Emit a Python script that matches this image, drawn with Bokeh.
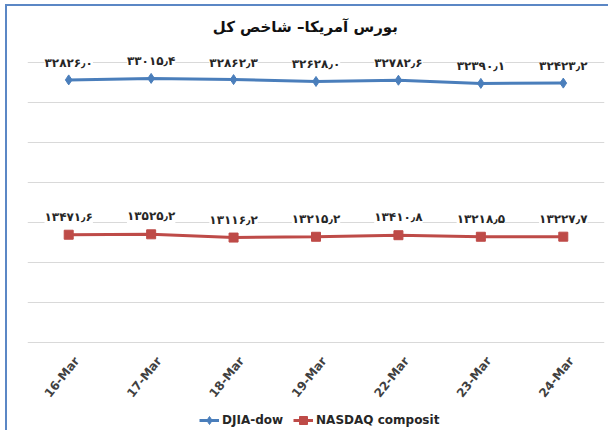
from bokeh.plotting import figure
from bokeh.models import (FactorRange, Range1d, FixedTicker, LabelSet, ColumnDataSource,
                          Label, Legend, LegendItem)
from bokeh.core.properties import value
from bokeh.embed import file_html
from bokeh.resources import INLINE

dates = ["16-Mar", "17-Mar", "18-Mar", "19-Mar", "22-Mar", "23-Mar", "24-Mar"]
djia = [32826.0, 33015.4, 32862.3, 32628.0, 32782.6, 32390.1, 32423.2]
nasdaq = [13471.6, 13525.2, 13116.2, 13215.2, 13410.8, 13218.5, 13227.7]
series_names = ["DJIA-dow", "NASDAQ composit"]
title_text = "بورس آمریکا– شاخص کل"
grid_ticks = [0, 5000, 10000, 15000, 20000, 25000, 30000, 35000]

FA = str.maketrans("0123456789.", "۰۱۲۳۴۵۶۷۸۹٫")


def fa(v):
    return f"{v:.1f}".translate(FA)


BLUE = "#4a7ebb"
RED = "#be4b48"
FONT = "DejaVu Sans"

p = figure(x_range=FactorRange(*dates), y_range=Range1d(-11250, 42000),
           width=603, height=426, output_backend="svg", toolbar_location=None,
           min_border_left=20, min_border_right=6, min_border_top=0, min_border_bottom=0)
p.outline_line_color = None
p.yaxis.visible = False
p.xaxis.visible = False
p.ygrid.ticker = FixedTicker(ticks=grid_ticks)
p.ygrid.grid_line_color = "#d9d9d9"
p.xgrid.grid_line_color = None
p.styles = {"margin-top": "4px", "margin-left": "5px",
            "border-top": "2px solid #5b87c5", "border-left": "2px solid #5b87c5"}

src1 = ColumnDataSource(dict(x=dates, y=djia, t=[fa(v) for v in djia]))
src2 = ColumnDataSource(dict(x=dates, y=nasdaq, t=[fa(v) for v in nasdaq]))
srcx = ColumnDataSource(dict(x=dates, y=[0] * len(dates), t=dates))

l1 = p.line("x", "y", source=src1, line_color=BLUE, line_width=3)
m1 = p.scatter("x", "y", source=src1, marker="diamond", size=10, fill_color=BLUE, line_color=BLUE)
l2 = p.line("x", "y", source=src2, line_color=RED, line_width=3)
m2 = p.scatter("x", "y", source=src2, marker="square", size=9, fill_color=RED, line_color=RED)

for src, off in ((src1, 17), (src2, 18)):
    p.add_layout(LabelSet(x="x", y="y", text="t", source=src, y_offset=off,
                          text_align="center", text_baseline="middle",
                          text_font=value(FONT), text_font_style="bold",
                          text_font_size="12px", text_color="#262626",
                          background_fill_color="white"))

# category labels under the baseline, rotated
p.add_layout(LabelSet(x="x", y="y", text="t", source=srcx, angle=0.9,
                      x_offset=8, y_offset=-16,
                      text_align="right", text_baseline="middle",
                      text_font=value(FONT), text_font_style="bold",
                      text_font_size="12px", text_color="#404040"))

p.add_layout(Label(x=3.37, y=39500, text=title_text, text_align="center",
                   text_baseline="middle", text_font=FONT, text_font_style="bold",
                   text_font_size="15px", text_color="#111111"))

legend = Legend(items=[LegendItem(label=series_names[0], renderers=[l1, m1]),
                       LegendItem(label=series_names[1], renderers=[l2, m2])],
                orientation="horizontal", location=(172, 2),
                label_text_font=FONT, label_text_font_size="12px",
                label_text_font_style="bold",
                label_text_color="#262626", border_line_color=None,
                background_fill_alpha=0, glyph_width=20, spacing=10,
                padding=2, margin=0, label_standoff=3)
p.add_layout(legend, "center")

open("out.html", "w").write(file_html(p, INLINE))
